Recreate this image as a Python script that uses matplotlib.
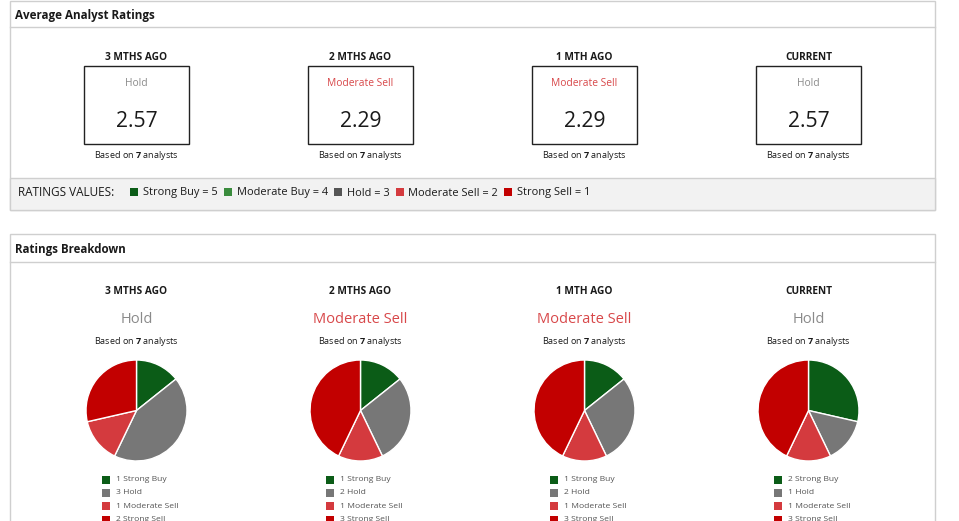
import matplotlib
matplotlib.use("Agg")
import matplotlib.pyplot as plt
from matplotlib.patches import Rectangle

plt.rcParams['font.family'] = ['Open Sans', 'DejaVu Sans']
plt.rcParams['mathtext.fontset'] = 'custom'
plt.rcParams['mathtext.rm'] = 'Open Sans'
plt.rcParams['mathtext.bf'] = 'Open Sans:bold'

# data
periods = ["3 MTHS AGO", "2 MTHS AGO", "1 MTH AGO", "CURRENT"]
avg_scores = [2.57, 2.29, 2.29, 2.57]
avg_labels = ["Hold", "Moderate Sell", "Moderate Sell", "Hold"]
analyst_counts = [7, 7, 7, 7]

rating_names = ["Strong Buy", "Moderate Buy", "Hold", "Moderate Sell", "Strong Sell"]
rating_values = [5, 4, 3, 2, 1]
strong_buy = [1, 1, 1, 2]
moderate_buy = [0, 0, 0, 0]
hold = [3, 2, 2, 1]
moderate_sell = [1, 1, 1, 1]
strong_sell = [2, 3, 3, 3]

rating_colors = ['#0b5c17', '#3a8c3d', '#777777', '#d43a3e', '#c20000']
band_colors = ['#0b5c17', '#3a8c3d', '#555555', '#d43a3e', '#c20000']
label_colors = {"Hold": '#8a8a8a', "Moderate Sell": '#d8484a'}
TXT = '#1a1a1a'
BORDER = '#cfcfcf'

W, H = 959, 521
fig = plt.figure(figsize=(W / 100, H / 100), dpi=100)
ax = fig.add_axes([0, 0, 1, 1])
ax.set_xlim(0, W)
ax.set_ylim(H, 0)
ax.axis('off')
renderer = fig.canvas.get_renderer()


def text_width(s, size, weight='normal'):
    t = ax.text(0, 0, s, fontsize=size, fontweight=weight)
    w = t.get_window_extent(renderer).width
    t.remove()
    return w


def based_on(x, y, n, size=6.5):
    ax.text(x, y, "Based on $\\mathbf{" + str(n) + "}$ analysts", fontsize=size,
            color=TXT, ha='center', va='center')


col_x = [136.5, 360.5, 584.5, 808.5]

# ---- panel 1: average ratings
ax.add_patch(Rectangle((9.5, 0.5), 925.5, 209.5, facecolor='white',
                       edgecolor=BORDER, lw=1))
ax.plot([9.5, 935], [27, 27], color=BORDER, lw=1)
ax.add_patch(Rectangle((9.5, 178), 925.5, 32, facecolor='#f2f2f2',
                       edgecolor=BORDER, lw=1))
ax.text(15, 16, "Average Analyst Ratings", fontsize=8.4, fontweight='bold',
        color=TXT, ha='left', va='center')

for i, cx in enumerate(col_x):
    ax.text(cx, 58, periods[i], fontsize=7.3, fontweight='bold', color=TXT,
            ha='center', va='center')
    ax.add_patch(Rectangle((cx - 52.5, 66), 105, 78, facecolor='white',
                           edgecolor='#222222', lw=1))
    ax.text(cx, 83, avg_labels[i], fontsize=7.4,
            color=label_colors[avg_labels[i]], ha='center', va='center')
    ax.text(cx, 121.5, f"{avg_scores[i]:.2f}", fontsize=15.2, color=TXT,
            ha='center', va='center')
    based_on(cx, 156, analyst_counts[i])

# ratings values band
ax.text(18, 193, "RATINGS VALUES:", fontsize=8.5, color=TXT,
        ha='left', va='center')
bx = 130
for name, val, c in zip(rating_names, rating_values, band_colors):
    ax.add_patch(Rectangle((bx, 188), 8, 8, facecolor=c, edgecolor='none'))
    lab = f"{name} = {val}"
    ax.text(bx + 13, 193, lab, fontsize=7.9, color=TXT, ha='left', va='center')
    bx += 13 + text_width(lab, 7.9) + 6

# ---- panel 2: ratings breakdown
ax.add_patch(Rectangle((9.5, 234), 925.5, 300, facecolor='white',
                       edgecolor=BORDER, lw=1, clip_on=False))
ax.plot([9.5, 935], [262, 262], color=BORDER, lw=1)
ax.text(15, 249.5, "Ratings Breakdown", fontsize=8.3, fontweight='bold',
        color=TXT, ha='left', va='center')

counts_by_period = list(zip(strong_buy, moderate_buy, hold, moderate_sell,
                            strong_sell))
pie_cy = 410.5
r = 51.5
for i, cx in enumerate(col_x):
    ax.text(cx, 292, periods[i], fontsize=7.3, fontweight='bold', color=TXT,
            ha='center', va='center')
    ax.text(cx, 319.5, avg_labels[i], fontsize=10.5,
            color=label_colors[avg_labels[i]], ha='center', va='center')
    based_on(cx, 342, analyst_counts[i])

    counts = counts_by_period[i]
    vals = [c for c in counts if c > 0]
    cols = [rating_colors[k] for k, c in enumerate(counts) if c > 0]
    names = [rating_names[k] for k, c in enumerate(counts) if c > 0]

    pax = fig.add_axes([(cx - r) / W, (H - pie_cy - r) / H, 2 * r / W, 2 * r / H])
    pax.pie(vals, colors=cols, startangle=90, counterclock=False, radius=1,
            wedgeprops=dict(edgecolor='white', linewidth=1))
    pax.set_xlim(-1.02, 1.02)
    pax.set_ylim(-1.02, 1.02)
    pax.axis('off')

    # small legend under each pie (last row is cut by the frame, as in the source)
    ly = 479.5
    for v, c, n in zip(vals, cols, names):
        ax.add_patch(Rectangle((cx - 35, ly - 4), 8, 8, facecolor=c,
                               edgecolor='none'))
        ax.text(cx - 21, ly, f"{v} {n}", fontsize=6.1, color='#555555',
                ha='left', va='center')
        ly += 13.4

fig.savefig("out.png", dpi=100)
